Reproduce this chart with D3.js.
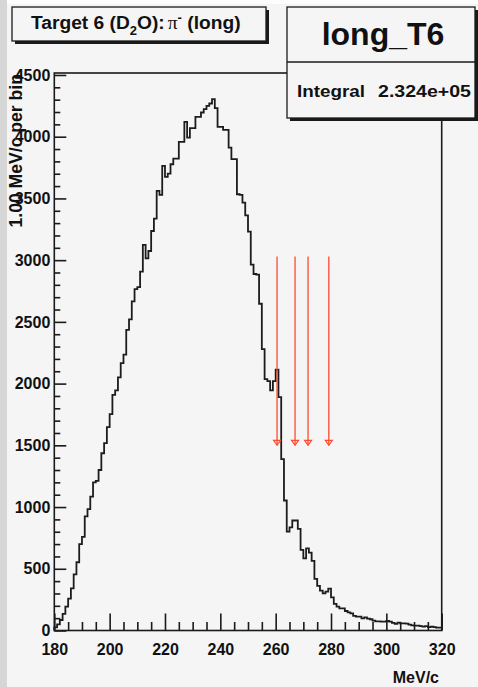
<!DOCTYPE html>
<html>
<head>
<meta charset="utf-8">
<script src="https://cdn.jsdelivr.net/npm/d3@7"></script>
<style>
	body { margin: 0; background: #f5f5f5; }
	svg { display: block; }
	text { font-family: "Liberation Sans", Arial, sans-serif; font-weight: bold; fill: #111; }
</style>
</head>
<body>
<div id="chart"></div>
<script>

// histogram: 1 MeV bins starting at 180 MeV/c
var binLow = 180;
var binWidth = 1;
var counts = [
	25, 50, 85, 135, 193, 258, 342, 455, 553, 700,
	758, 925, 983, 1085, 1200, 1212, 1300, 1436, 1518, 1648,
	1752, 1908, 1945, 2050, 2166, 2234, 2436, 2520, 2666, 2766,
	2782, 2907, 3123, 3015, 3074, 3236, 3336, 3561, 3528, 3764,
	3674, 3701, 3777, 3823, 3823, 3958, 3958, 4120, 3993, 4069,
	4069, 4161, 4161, 4196, 4223, 4250, 4269, 4304, 4231, 4080,
	4080, 4055, 4055, 3912, 3818, 3818, 3534, 3528, 3466, 3363,
	3231, 2964, 2888, 2882, 2647, 2280, 2036, 2020, 1945, 2020,
	2112, 1890, 1388, 1053, 801, 836, 891, 891, 823, 653,
	585, 666, 631, 564, 418, 361, 323, 301, 315, 339,
	269, 215, 193, 180, 180, 158, 147, 139, 118, 112,
	112, 99, 107, 96, 91, 80, 74, 74, 72, 72,
	77, 72, 61, 53, 64, 58, 58, 55, 47, 42,
	39, 39, 36, 31, 36, 28, 31, 28, 23, 23
];

// axis ticks
var xMajorTicks = [180, 200, 220, 240, 260, 280, 300, 320];
var yMajorTicks = [0, 500, 1000, 1500, 2000, 2500, 3000, 3500, 4000, 4500];

// cut arrows (MeV/c), drawn from arrowTop down to arrowBottom
var arrowMeV = [260.5, 267, 271.7, 279.2];
var arrowTop = 3030;
var arrowBottom = 1500;

var titleText = "Target 6 (D";
var histName = "long_T6";
var integralText = "2.324e+05";
var xTitle = "MeV/c";
var yTitle = "1.00 MeV/c per bin";

var width = 478;
var height = 687;

var frame = {left: 54.3, right: 441.7, top: 73, bottom: 630.5};

var svg = d3.select("#chart").append("svg")
	.attr("width", width)
	.attr("height", height);

// canvas background bits
svg.append("rect")
	.attr("width", width)
	.attr("height", height)
	.attr("fill", "#f5f5f5");
svg.append("rect")
	.attr("width", 7)
	.attr("height", height)
	.attr("fill", "#d6d6d6");
svg.append("rect")
	.attr("x", 7)
	.attr("width", width)
	.attr("height", 4)
	.attr("fill", "#fdfdfd");

var xScale = d3.scaleLinear()
	.domain([180, 320])
	.range([frame.left, frame.right]);

var yScale = d3.scaleLinear()
	.domain([0, 4516])
	.range([frame.bottom, frame.top]);

// minor ticks
var xMinor = d3.range(180, 320.1, 5).filter(function(d){ return d % 20 != 0; });
var yMinor = d3.range(0, 4500.1, 100).filter(function(d){ return d % 500 != 0; });

var axisColor = "#1a1a1a";

var xMinorAxis = svg.append("g")
	.attr("transform", "translate(0," + frame.bottom + ")")
	.call(d3.axisBottom(xScale).tickValues(xMinor).tickSize(-8.5).tickFormat(""));

var xAxis = svg.append("g")
	.attr("class", "axis x-axis")
	.attr("transform", "translate(0," + frame.bottom + ")")
	.call(d3.axisBottom(xScale).tickValues(xMajorTicks).tickSize(-17).tickPadding(13).tickFormat(d3.format("d")));

var yMinorAxis = svg.append("g")
	.attr("transform", "translate(" + frame.left + ",0)")
	.call(d3.axisLeft(yScale).tickValues(yMinor).tickSize(-6).tickFormat(""));

var yAxis = svg.append("g")
	.attr("class", "axis y-axis")
	.attr("transform", "translate(" + frame.left + ",0)")
	.call(d3.axisLeft(yScale).tickValues(yMajorTicks).tickSize(-12).tickPadding(4).tickFormat(d3.format("d")));

svg.selectAll(".domain").remove();
svg.selectAll(".tick line")
	.attr("stroke", axisColor)
	.attr("stroke-width", 1.6);
svg.selectAll(".axis text")
	.attr("font-family", "Liberation Sans, Arial, sans-serif")
	.attr("font-weight", "bold")
	.attr("font-size", 16)
	.attr("fill", "#111");

// y title sits under the tick labels, like the original
svg.insert("text", ".y-axis")
	.attr("transform", "translate(22," + (frame.top + 1) + ") rotate(-90)")
	.attr("text-anchor", "end")
	.attr("font-size", 17.6)
	.text(yTitle);

// histogram outline
var histPoints = [[binLow, 0]];
for(var i = 0; i < counts.length; i++){
	histPoints.push([binLow + i*binWidth, counts[i]]);
}
histPoints.push([binLow + counts.length*binWidth, counts[counts.length-1]]);

var line = d3.line()
	.x(function(d){ return xScale(d[0]); })
	.y(function(d){ return yScale(d[1]); })
	.curve(d3.curveStepAfter);

svg.append("path")
	.datum(histPoints)
	.attr("d", line)
	.attr("fill", "none")
	.attr("stroke", "#1c1c1c")
	.attr("stroke-width", 1.8);

// frame
svg.append("rect")
	.attr("x", frame.left)
	.attr("y", frame.top)
	.attr("width", frame.right - frame.left)
	.attr("height", frame.bottom - frame.top)
	.attr("fill", "none")
	.attr("stroke", axisColor)
	.attr("stroke-width", 1.6);

// red arrows
var arrowColor = "#ff4a30";
var arrows = svg.append("g").attr("class", "arrows");
arrows.selectAll("line")
	.data(arrowMeV)
	.enter()
	.append("line")
	.attr("x1", function(d){ return xScale(d); })
	.attr("x2", function(d){ return xScale(d); })
	.attr("y1", yScale(arrowTop))
	.attr("y2", yScale(arrowBottom))
	.attr("stroke", arrowColor)
	.attr("stroke-width", 1.3);
arrows.selectAll("path")
	.data(arrowMeV)
	.enter()
	.append("path")
	.attr("d", function(d){
		var x = xScale(d), y = yScale(arrowBottom);
		return "M" + (x-3.5) + "," + (y-5) + "L" + (x+3.5) + "," + (y-5) + "L" + x + "," + y + "Z";
	})
	.attr("fill", "none")
	.attr("stroke", arrowColor)
	.attr("stroke-width", 1.2);

// x title
svg.append("text")
	.attr("x", 439)
	.attr("y", 683)
	.attr("text-anchor", "end")
	.attr("font-size", 16)
	.text(xTitle);

// boxes with ROOT style shadow
function shadowBox(x, y, w, h){
	svg.append("rect")
		.attr("x", x + 3)
		.attr("y", y + 3)
		.attr("width", w)
		.attr("height", h)
		.attr("fill", "#1a1a1a");
	svg.append("rect")
		.attr("x", x)
		.attr("y", y)
		.attr("width", w)
		.attr("height", h)
		.attr("fill", "#f5f5f5")
		.attr("stroke", "#1a1a1a")
		.attr("stroke-width", 1.3);
}

// title box
shadowBox(12, 7, 254, 34);
var title = svg.append("text")
	.attr("x", 31)
	.attr("y", 29)
	.attr("font-size", 19.2);
title.append("tspan").text(titleText);
title.append("tspan").attr("font-size", 13).attr("dy", 6).text("2");
title.append("tspan").attr("dy", -6).text("O):");
title.append("tspan")
	.attr("dx", 3)
	.attr("font-family", "Liberation Serif, serif")
	.attr("font-weight", "normal")
	.attr("font-size", 19.5)
	.text("\u03c0");
title.append("tspan").attr("font-size", 13).attr("dy", -7).text("-");
title.append("tspan").attr("dy", 7).text(" (long)");

// stats box
shadowBox(287, 7, 188, 111);
svg.append("line")
	.attr("x1", 287)
	.attr("x2", 475)
	.attr("y1", 62)
	.attr("y2", 62)
	.attr("stroke", "#1a1a1a")
	.attr("stroke-width", 1.3);
svg.append("text")
	.attr("x", 383)
	.attr("y", 45)
	.attr("text-anchor", "middle")
	.attr("font-size", 32)
	.text(histName);
svg.append("text")
	.attr("x", 297)
	.attr("y", 97)
	.attr("font-size", 17)
	.attr("textLength", 68)
	.attr("lengthAdjust", "spacingAndGlyphs")
	.text("Integral");
svg.append("text")
	.attr("x", 378)
	.attr("y", 97)
	.attr("font-size", 17)
	.attr("textLength", 93)
	.attr("lengthAdjust", "spacingAndGlyphs")
	.text(integralText);

</script>
</body>
</html>
